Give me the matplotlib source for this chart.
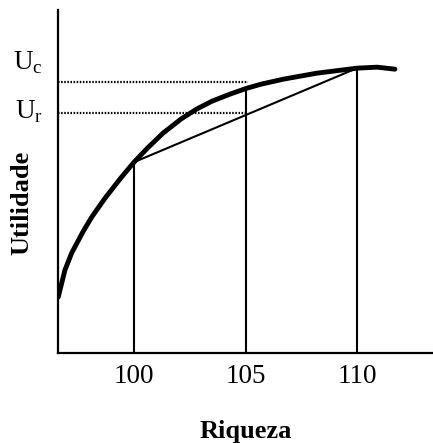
import matplotlib
matplotlib.use("Agg")
import matplotlib.pyplot as plt

# utility curve (wealth, utility)
wealth = [96.6, 96.9, 97.2, 97.7, 98.1, 98.7, 99.4, 100.0, 100.6, 101.3,
          102.1, 102.8, 103.5, 104.3, 105.07, 105.7, 106.7, 108.2, 110.0,
          110.9, 111.7]
utility = [56, 83, 100, 121, 136, 155, 175, 191, 205, 220,
           234, 244, 252, 259, 265, 269, 274, 280, 285,
           286, 284]

# points of interest
wealth_ticks = [100, 105, 110]
u_at_ticks = [191, 265, 285]
chord_x = [100, 110]
chord_y = [191, 285]
u_certain = 271
u_risky = 240
dotted_end = [105.1, 105.0]

serif = "Liberation Serif"

fig = plt.figure(figsize=(4.33, 4.43), dpi=100)
ax = fig.add_axes([0.134, 0.203, 0.866, 0.774])

ax.plot(wealth, utility, color="black", lw=3.5, solid_capstyle="round",
        solid_joinstyle="round")
ax.plot(chord_x, chord_y, color="black", lw=1.5)
for xv, yv in zip(wealth_ticks, u_at_ticks):
    ax.plot([xv, xv], [0, yv], color="black", lw=1.5)

# dotted guides for the certain / risky utility levels
ax.plot([96.6, dotted_end[0]], [u_certain, u_certain], color="black",
        lw=1.6, ls=(0, (0.7, 0.7)))
ax.plot([96.6, dotted_end[1]], [u_risky, u_risky], color="black",
        lw=1.6, ls=(0, (0.7, 0.7)))

ax.set_xlim(96.59, 113.41)
ax.set_ylim(0, 343)
ax.spines["top"].set_visible(False)
ax.spines["right"].set_visible(False)
ax.spines["left"].set_linewidth(1.6)
ax.spines["bottom"].set_linewidth(1.6)

ax.set_xticks(wealth_ticks)
ax.set_xticklabels([str(t) for t in wealth_ticks], fontsize=19.5, family=serif)
ax.tick_params(axis="x", length=0, pad=8)
ax.set_yticks([])

ax.set_xlabel("Riqueza", fontsize=19, family=serif, fontweight="bold",
              labelpad=22)
ax.set_ylabel("Utilidade", fontsize=19, family=serif, fontweight="bold")
ax.yaxis.set_label_coords(-0.065, 0.437)

ax.text(-0.04, 290, r"U$_\mathregular{c}$", transform=ax.get_yaxis_transform(),
        ha="right", va="center", fontsize=19.5, family=serif)
ax.text(-0.04, 241, r"U$_\mathregular{r}$", transform=ax.get_yaxis_transform(),
        ha="right", va="center", fontsize=19.5, family=serif)

fig.savefig("out.png", dpi=100)
